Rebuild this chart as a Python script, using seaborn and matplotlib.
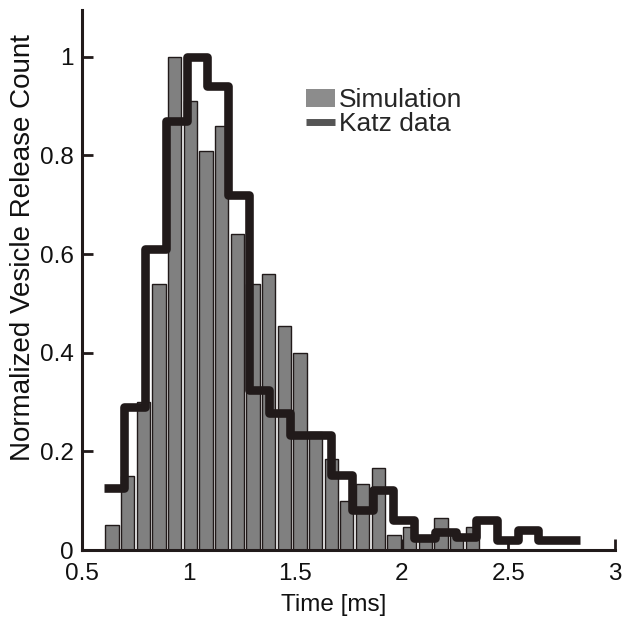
import numpy as np
import matplotlib
matplotlib.use("Agg")
import matplotlib.pyplot as plt
from matplotlib.patches import Patch
from matplotlib.lines import Line2D
import seaborn as sns

# simulation histogram (bin edges in ms, normalized release counts)
sim_edges = [0.605, 0.678, 0.752, 0.825, 0.899, 0.972, 1.045, 1.119, 1.192,
             1.266, 1.339, 1.412, 1.486, 1.559, 1.633, 1.706, 1.779, 1.853,
             1.926, 2.000, 2.073, 2.146, 2.220, 2.293, 2.367]
sim_counts = [0.05, 0.15, 0.30, 0.54, 1.00, 0.91, 0.81, 0.86, 0.64, 0.54,
              0.56, 0.455, 0.40, 0.24, 0.185, 0.10, 0.135, 0.167, 0.03,
              0.047, 0.025, 0.066, 0.03, 0.047]

# Katz data histogram
katz_edges = [0.603, 0.700, 0.797, 0.894, 0.991, 1.088, 1.185, 1.282, 1.379,
              1.476, 1.573, 1.670, 1.767, 1.864, 1.961, 2.058, 2.155, 2.252,
              2.349, 2.446, 2.543, 2.640, 2.737, 2.834]
katz_counts = [0.125, 0.29, 0.61, 0.87, 1.00, 0.94, 0.72, 0.325, 0.278,
               0.233, 0.233, 0.152, 0.081, 0.122, 0.061, 0.024, 0.037, 0.027,
               0.061, 0.02, 0.04, 0.02, 0.02]

x_ticks = [0.5, 1, 1.5, 2, 2.5, 3]
y_ticks = [0, 0.2, 0.4, 0.6, 0.8, 1]

sns.set_style("ticks")
plt.rcParams['font.family'] = ['Liberation Sans', 'DejaVu Sans']

dark = '#211a1a'

fig = plt.figure(figsize=(6.29, 6.23), dpi=100)
ax = fig.add_axes([0.130, 0.117, 0.848, 0.867])

sim_mid = (np.array(sim_edges[:-1]) + np.array(sim_edges[1:])) / 2
katz_mid = (np.array(katz_edges[:-1]) + np.array(katz_edges[1:])) / 2

sns.histplot(x=sim_mid, weights=sim_counts, bins=sim_edges, color='#808080',
             alpha=1, edgecolor=dark, linewidth=1, shrink=0.85, ax=ax)
sns.histplot(x=katz_mid, weights=katz_counts, bins=katz_edges, element='step',
             fill=False, color=dark, linewidth=6.2, solid_joinstyle='round',
             solid_capstyle='butt', zorder=3, ax=ax)

ax.set_xlim(0.5, 3.0)
ax.set_ylim(0, 1.095)
ax.set_xticks(x_ticks)
ax.set_xticklabels([f"{t:g}" for t in x_ticks])
ax.set_yticks(y_ticks)
ax.set_yticklabels([f"{t:g}" for t in y_ticks])
ax.tick_params(direction='in', length=8, width=2, colors=dark,
               labelcolor='#111111', labelsize=17.5)
ax.tick_params(axis='x', pad=9)
ax.tick_params(axis='y', pad=6)

sns.despine(ax=ax)
for s in ['left', 'bottom']:
    ax.spines[s].set_linewidth(2.2)
    ax.spines[s].set_color(dark)

ax.set_xlabel("Time [ms]", fontsize=17.5, color='#111111')
ax.xaxis.set_label_coords(0.473, -0.082)
ax.set_ylabel("Normalized Vesicle Release Count", fontsize=20, color='#111111')
ax.yaxis.set_label_coords(-0.085, 0.56)

handles = [Patch(facecolor='#8c8c8c', edgecolor='none'),
           Line2D([0], [0], color='#555555', lw=5, solid_capstyle='butt')]
ax.legend(handles, ['Simulation', 'Katz data'], loc='upper left',
          bbox_to_anchor=(0.42, 0.855), frameon=False, fontsize=19,
          handlelength=1.1, handletextpad=0.15, labelspacing=0.0,
          borderpad=0, borderaxespad=0)

fig.savefig("out.png", dpi=100)
